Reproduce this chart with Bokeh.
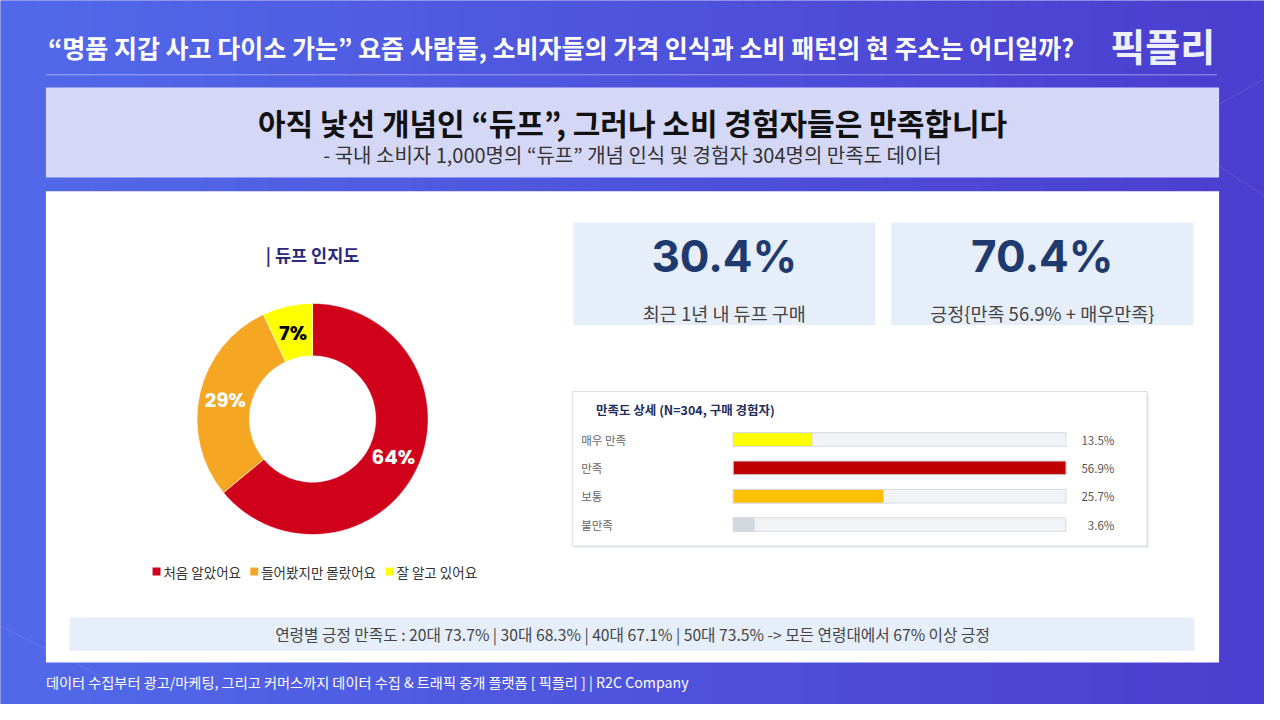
import numpy as np
from bokeh.plotting import figure
from bokeh.models import Range1d
from bokeh.core.properties import value
from bokeh.embed import file_html
from bokeh.resources import INLINE

# ---------------- data ----------------
header_title = "“명품 지갑 사고 다이소 가는” 요즘 사람들, 소비자들의 가격 인식과 소비 패턴의 현 주소는 어디일까?"
logo_text = "픽플리"
main_title = "아직 낯선 개념인 “듀프”, 그러나 소비 경험자들은 만족합니다"
main_subtitle = "- 국내 소비자 1,000명의 “듀프” 개념 인식 및 경험자 304명의 만족도 데이터"

donut_title = "| 듀프 인지도"
awareness_labels = ["처음 알았어요", "들어봤지만 몰랐어요", "잘 알고 있어요"]
awareness_values = [64, 29, 7]
awareness_colors = ["#d0021b", "#f5a623", "#ffff00"]
awareness_label_colors = ["white", "white", "black"]

kpi_values = ["30.4%", "70.4%"]
kpi_labels = ["최근 1년 내 듀프 구매", "긍정{만족 56.9% + 매우만족}"]

sat_title = "만족도 상세 (N=304, 구매 경험자)"
sat_labels = ["매우 만족", "만족", "보통", "불만족"]
sat_values = [13.5, 56.9, 25.7, 3.6]
sat_colors = ["#ffff00", "#c00000", "#ffc000", "#d3d7de"]

age_groups = ["20대", "30대", "40대", "50대"]
age_positive = [73.7, 68.3, 67.1, 73.5]
age_note = "-> 모든 연령대에서 67% 이상 긍정"

footer_text = "데이터 수집부터 광고/마케팅, 그리고 커머스까지 데이터 수집 & 트래픽 중개 플랫폼 [ 픽플리 ]  |  R2C Company"

# ---------------- figure ----------------
KR = "Noto Sans CJK KR"
W, H = 1264, 704
p = figure(width=W, height=H, x_range=Range1d(0, 1280), y_range=Range1d(0, 720),
           output_backend="svg", toolbar_location=None, min_border=0,
           x_axis_location=None, y_axis_location=None)
p.grid.visible = False
p.outline_line_color = None
p.background_fill_color = "#4d55dc"
p.border_fill_color = "#4d55dc"


def fy(y):
    return 720 - y


def box(x0, y0, x1, y1, color, line=None, alpha=1.0, lw=1):
    p.quad(left=[x0], right=[x1], top=[fy(y0)], bottom=[fy(y1)], fill_color=color,
           fill_alpha=alpha, line_color=line, line_width=lw)


def txt(x, y, s, size, color, bold=False, align="left", font=KR):
    p.text(x=[x], y=[fy(y)], text=[s], text_font=value(font), text_font_size=f"{size}px",
           text_color=color, text_align=align, text_baseline="middle",
           text_font_style="bold" if bold else "normal")


# background gradient
n = 80
xs = np.linspace(0, 1280, n + 1)
c0 = np.array([82, 106, 234])
c1 = np.array([76, 62, 208])
cols = []
for i in range(n):
    t = i / (n - 1)
    c = (c0 * (1 - t) + c1 * t).astype(int)
    cols.append("#%02x%02x%02x" % tuple(c))
p.quad(left=xs[:-1], right=xs[1:] + 0.5, top=[fy(0)] * n, bottom=[fy(720)] * n,
       fill_color=cols, line_color=None)

# faint network lines
p.line(x=[1140, 1280], y=[fy(160), fy(80)], line_color="white", line_alpha=0.12, line_width=1)
p.line(x=[1175, 1280], y=[fy(130), fy(200)], line_color="white", line_alpha=0.12, line_width=1)
p.line(x=[0, 120], y=[fy(640), fy(700)], line_color="white", line_alpha=0.10, line_width=1)

# header
txt(48, 48, header_title, 25, "white", bold=True)
txt(1177, 45, logo_text, 38, "#eef0ff", bold=True, align="center")
p.line(x=[46, 1232], y=[fy(76), fy(76)], line_color="white", line_alpha=0.45, line_width=1)

# title band
box(46, 89, 1234, 181, "#d4d8f6")
txt(640, 124, main_title, 30, "#111111", bold=True, align="center")
txt(640, 157, main_subtitle, 20, "#333333", align="center")

# white panel
box(46, 195, 1234, 677, "white")

# donut
cx, cy = 316, 428
r_in, r_out = 64, 117
vals = np.array(awareness_values, dtype=float)
cum = np.concatenate([[0], np.cumsum(vals)]) / vals.sum()
starts = np.pi / 2 - 2 * np.pi * cum[1:]
ends = np.pi / 2 - 2 * np.pi * cum[:-1]
p.annular_wedge(x=cx, y=fy(cy), inner_radius=r_in, outer_radius=r_out,
                start_angle=starts, end_angle=ends, fill_color=awareness_colors,
                line_color="white", line_width=0.5)
mids = (cum[:-1] + cum[1:]) / 2
r_mid = (r_in + r_out) / 2
lx = cx + r_mid * np.sin(2 * np.pi * mids)
ly = fy(cy) + r_mid * np.cos(2 * np.pi * mids)
p.text(x=lx, y=ly, text=[f"{int(v)}%" for v in awareness_values], text_font=value("Poppins"),
       text_font_size="20px", text_font_style="bold", text_color=awareness_label_colors,
       text_align="center", text_baseline="middle")
txt(316, 260, donut_title, 17.5, "#2d2a7e", bold=True, align="center")

# legend
leg_x = [158, 257, 394]
for i, lab in enumerate(awareness_labels):
    box(leg_x[i] - 4, 580, leg_x[i] + 4, 588, awareness_colors[i])
    txt(leg_x[i] + 7, 584, lab, 13.5, "#333333")

# KPI boxes
kpi_x = [(580, 886), (902, 1208)]
for (x0, x1), v, lab in zip(kpi_x, kpi_values, kpi_labels):
    box(x0, 227, x1, 332, "#e6eefa")
    txt((x0 + x1) / 2, 261, v, 44, "#1f3a6e", bold=True, align="center", font="Inter")
    txt((x0 + x1) / 2, 320, lab, 18.5, "#444444", align="center")

# satisfaction card
box(581, 402, 1163, 560, "#eceef2", line=None)
box(579, 400, 1161, 558, "white", line="#d9dce2")
txt(603, 418, sat_title, 12.5, "#1f2d5a", bold=True)
rows_y = [449, 478, 507, 536]
track_l, track_r = 742, 1079
vmax = max(sat_values)
for yy, lab, v, c in zip(rows_y, sat_labels, sat_values, sat_colors):
    txt(588, yy, lab, 11.5, "#666666")
    box(track_l, yy - 7, track_r, yy + 7, "#f1f3f6", line="#d7dae0")
    box(track_l, yy - 7, track_l + (track_r - track_l) * v / vmax, yy + 7, c, line="#d7dae0")
    txt(1128, yy, f"{v}%", 11.5, "#555555", align="right")

# age band
box(70, 631, 1209, 665, "#e6eefa")
age_text = "연령별 긍정 만족도 : " + " | ".join(f"{g} {v}%" for g, v in zip(age_groups, age_positive)) + " " + age_note
txt(640, 648, age_text, 15.7, "#444444", align="center")

# footer
txt(46, 697, footer_text, 14.2, "white")

open("out.html", "w").write(file_html(p, INLINE))
